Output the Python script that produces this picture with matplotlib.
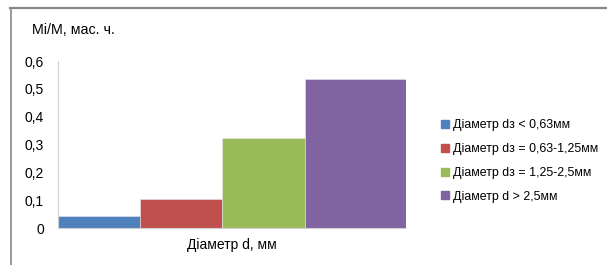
import matplotlib.pyplot as plt
from matplotlib.lines import Line2D

# DATA
labels = ['Діаметр dз < 0,63мм', 'Діаметр dз = 0,63-1,25мм',
          'Діаметр dз = 1,25-2,5мм', 'Діаметр d > 2,5мм']
values = [0.043, 0.105, 0.324, 0.535]
yticks = [0, 0.1, 0.2, 0.3, 0.4, 0.5, 0.6]
ytick_labels = ['0', '0,1', '0,2', '0,3', '0,4', '0,5', '0,6']

colors = ['#4F81BD', '#C0504D', '#9BBB59', '#8064A2']
widths = [82, 82, 83, 101]

plt.rcParams['font.family'] = ['Liberation Sans', 'DejaVu Sans']

W, H = 607, 265
fig = plt.figure(figsize=(W / 100, H / 100), dpi=100)

# axes in pixel coords
x0, x1, y0, y1 = 58, 406, 228, 61
ax = fig.add_axes([x0 / W, 1 - y0 / H, (x1 - x0) / W, (y0 - y1) / H])

left = 0
for v, c, w in zip(values, colors, widths):
    ax.bar(left, v, width=w, align='edge', color=c, edgecolor='#e8e4ef', linewidth=0.4)
    left += w

ax.set_xlim(0, x1 - x0)
ax.set_ylim(0, 0.6)
ax.set_xticks([])
ax.set_yticks(yticks)
ax.set_yticklabels(ytick_labels, fontsize=10)
ax.tick_params(axis='y', length=0, pad=10)
for s in ['top', 'right']:
    ax.spines[s].set_visible(False)
ax.spines['left'].set_color('#d0d0d0')
ax.spines['bottom'].set_color('#d0d0d0')
ax.set_xlabel('Діаметр d, мм', fontsize=10, labelpad=7)

fig.text(32 / W, 1 - 30 / H, 'Mi/M, мас. ч.', fontsize=10.3, va='center', ha='left')

# legend
handles = [Line2D([], [], marker='s', linestyle='', markersize=5.5,
                  markerfacecolor=c, markeredgecolor=c) for c in colors]
fig.legend(handles, labels, loc='center left', bbox_to_anchor=(433 / W, 1 - 161 / H),
           frameon=False, fontsize=8.9, handletextpad=0.0, labelspacing=0.95,
           handlelength=1.2, borderaxespad=0)

# outer frame (top and left only)
fig.add_artist(Line2D([10 / W, 1], [1 - 8 / H, 1 - 8 / H], color='#878787', lw=1.6,
                      transform=fig.transFigure))
fig.add_artist(Line2D([10.5 / W, 10.5 / W], [0, 1 - 8 / H], color='#878787', lw=1.2,
                      transform=fig.transFigure))

fig.savefig('out.png', dpi=100)
